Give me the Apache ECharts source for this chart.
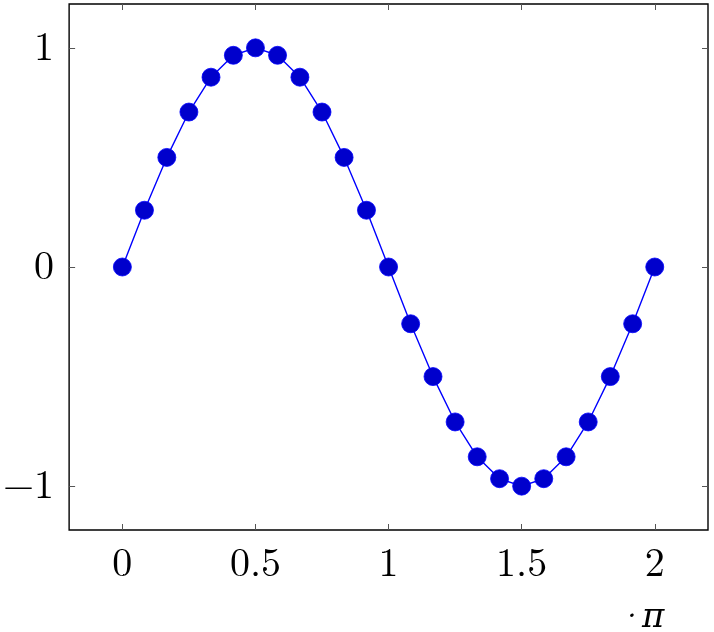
<!DOCTYPE html>
<html><head><meta charset="utf-8">
<script src="https://cdn.jsdelivr.net/npm/echarts@6/dist/echarts.min.js"></script>
<style>html,body{margin:0;padding:0;background:#fff}#c{width:714px;height:632px}</style>
</head><body><div id="c"></div>
<script>
const xValues = [0, 0.083, 0.167, 0.25, 0.333, 0.417, 0.5, 0.583, 0.667, 0.75, 0.833, 0.917, 1, 1.083, 1.167, 1.25, 1.333, 1.417, 1.5, 1.583, 1.667, 1.75, 1.833, 1.917, 2];
const yValues = [0, 0.259, 0.5, 0.707, 0.866, 0.966, 1, 0.966, 0.866, 0.707, 0.5, 0.259, 0, -0.259, -0.5, -0.707, -0.866, -0.966, -1, -0.966, -0.866, -0.707, -0.5, -0.259, 0];
const xTicks = [0, 0.5, 1, 1.5, 2];
const yTicks = [-1, 0, 1];
const xUnitLabel = '·π';

const font = '"Latin Modern Roman","CMU Serif","DejaVu Serif","Liberation Serif",serif';
const fmt = v => v < 0 ? '\u2212' + Math.abs(v) : String(v);
const chart = echarts.init(document.getElementById('c'), null, {renderer: 'canvas'});
const tickStyle = {show: true, inside: true, length: 6, lineStyle: {color: '#555', width: 1}};
const line = {show: false, onZero: false};
chart.setOption({
  animation: false,
  grid: {left: 68, right: 6, top: 4, bottom: 102, show: true, borderColor: '#000', borderWidth: 1.4, backgroundColor: 'transparent'},
  xAxis: [
    {type: 'value', min: -0.2, max: 2.2, position: 'bottom',
     axisLine: line, splitLine: {show: false},
     axisTick: Object.assign({customValues: xTicks}, tickStyle),
     axisLabel: {customValues: xTicks, formatter: fmt, fontFamily: font, fontSize: 40, color: '#000', margin: 14}},
    {type: 'value', min: -0.2, max: 2.2, position: 'top',
     axisLine: line, splitLine: {show: false},
     axisTick: Object.assign({customValues: xTicks}, tickStyle),
     axisLabel: {show: false, customValues: xTicks}}
  ],
  yAxis: [
    {type: 'value', min: -1.2, max: 1.2, position: 'left',
     axisLine: line, splitLine: {show: false},
     axisTick: Object.assign({customValues: yTicks}, tickStyle),
     axisLabel: {customValues: yTicks, formatter: fmt, fontFamily: font, fontSize: 40, color: '#000', margin: 15}},
    {type: 'value', min: -1.2, max: 1.2, position: 'right',
     axisLine: line, splitLine: {show: false},
     axisTick: Object.assign({customValues: yTicks}, tickStyle),
     axisLabel: {show: false, customValues: yTicks}}
  ],
  graphic: [{type: 'text', left: 616, top: 600,
    style: {text: xUnitLabel, font: 'italic 34px ' + font, fill: '#000'}}],
  series: [{
    type: 'line', xAxisIndex: 0, yAxisIndex: 0,
    data: xValues.map((x, i) => [x, yValues[i]]),
    symbol: 'circle', symbolSize: 18,
    lineStyle: {color: '#0000ff', width: 1.4},
    itemStyle: {color: '#0000cc', borderColor: '#0000ff', borderWidth: 0.8}
  }]
});
</script></body></html>
